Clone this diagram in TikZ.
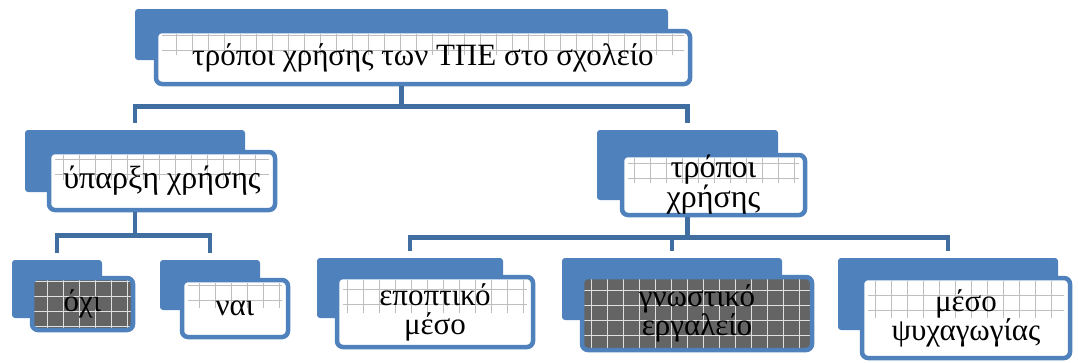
\documentclass[tikz,border=0pt]{standalone}
\usepackage{fontspec}
\setmainfont{Liberation Serif}
\usepackage{tikz}

\definecolor{boxblue}{RGB}{79,129,189}
\definecolor{linkblue}{RGB}{65,110,160}
\definecolor{gridgray}{RGB}{190,190,190}
\definecolor{darkfill}{RGB}{100,100,100}

\tikzset{
  back/.style={fill=boxblue, rounded corners=3pt, inner sep=0pt},
  front/.style={draw=boxblue, line width=4.5pt, rounded corners=6pt, fill=white,
    inner sep=0pt, align=center, font=\fontsize{31}{30}\selectfont},
  small/.style={font=\fontsize{31}{29}\selectfont},
  paper/.style={path picture={
    \draw[gridgray, line width=0.6pt]
      ([shift={(6,3)}]path picture bounding box.north west) grid[xstep=16pt,ystep=15pt]
      ([shift={(-6,#1)}]path picture bounding box.north east);}},
  darkpaper/.style={fill=darkfill, path picture={
    \draw[white, line width=0.6pt, opacity=0.8]
      (path picture bounding box.north west) grid[xstep=16pt,ystep=15pt]
      (path picture bounding box.south east);}},
  link/.style={draw=linkblue, line width=4.5pt, shorten >=7pt}
}

\begin{document}
\begin{tikzpicture}[x=1pt, y=-1pt]
\useasboundingbox (0,0) rectangle (1078,362);

% top
\node[back, minimum width=533, minimum height=51] (rootb) at (401.5,34.5) {};
\node[front, paper=24, minimum width=534, minimum height=53] (rootf) at (423,57.5)
  {τρόποι χρήσης των ΤΠΕ στο σχολείο};

% second row
\node[back, minimum width=220, minimum height=62] (upb) at (135,161) {};
\node[front, paper=28, minimum width=226, minimum height=58,
  font=\fontsize{32}{30}\selectfont] (upf) at (162,181)
  {ύπαρξη χρήσης};
\node[back, minimum width=181, minimum height=70] (trb) at (687.5,165) {};
\node[front, paper=28, minimum width=183, minimum height=60,
  font=\fontsize{32}{30}\selectfont] (trf) at (713.5,185)
  {τρόποι\\χρήσης};

% third row
\node[back, minimum width=90, minimum height=58] (oxb) at (57,289) {};
\node[front, small, darkpaper, minimum width=101, minimum height=52] (oxf) at (82.5,304)
  {όχι};
\node[back, minimum width=100, minimum height=50] (naib) at (210,285) {};
\node[front, small, paper=28, minimum width=106, minimum height=57] (naif) at (235,308.5)
  {ναι};
\node[back, minimum width=186, minimum height=60] (epb) at (410,288) {};
\node[front, small, paper=36, minimum width=196, minimum height=70] (epf) at (435,312)
  {εποπτικό\\μέσο};
\node[back, minimum width=220, minimum height=62] (gnb) at (672,289) {};
\node[front, small, darkpaper, minimum width=230, minimum height=73] (gnf) at (697,313.5)
  {γνωστικό\\εργαλείο};
\node[back, minimum width=220, minimum height=72] (psb) at (948,294) {};
\node[front, small, paper=40, minimum width=208, minimum height=80] (psf) at (966,318)
  {μέσο\\ψυχαγωγίας};

% connectors
\draw[link] (rootb |- rootf.south) -- ++(0,20) -| (upb.north);
\draw[link] (rootb |- rootf.south) -- ++(0,20) -| (trb.north);
\draw[link] (upb |- upf.south) -- ++(0,23) -| (oxb.north);
\draw[link] (upb |- upf.south) -- ++(0,23) -| (naib.north);
\draw[link] (trb |- trf.south) -- ++(0,20) -| (epb.north);
\draw[link] (trb |- trf.south) -- ++(0,20) -| (gnb.north);
\draw[link] (trb |- trf.south) -- ++(0,20) -| (psb.north);
\end{tikzpicture}
\end{document}
